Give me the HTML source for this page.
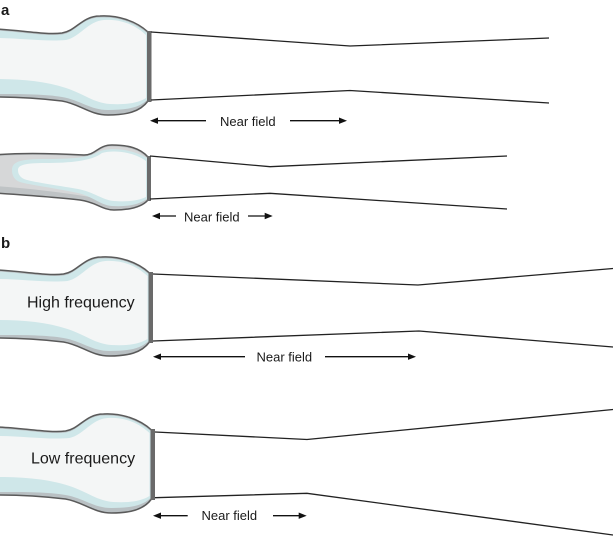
<!DOCTYPE html>
<html>
<head>
<meta charset="utf-8">
<style>
  html, body { margin: 0; padding: 0; background: #ffffff; }
  svg { display: block; }
  text { font-family: "Liberation Sans", sans-serif; fill: #1a1a1a; }
</style>
</head>
<body>
<svg width="613" height="537" viewBox="0 0 613 537" xmlns="http://www.w3.org/2000/svg">
  <defs>
    <g id="probe">
      <path d="M-5,29 C20,30 45,35 62,33 C76,31 82,16 100,16 C118,15 136,21 148,32 L148,101 C140,112 126,115 108,115 C90,115 80,104 62,101 C45,99 20,97 -5,97 Z" fill="#b9c0c3" stroke="#5a5a5a" stroke-width="1.5"/>
      <path d="M-5,30.5 C20,31.5 45,36.5 62,34.5 C76,32.5 82,17.5 100,17.5 C118,16.5 135,22.5 147,33 L147,100 C139,108 126,110 108,110 C90,110 80,100 62,97 C45,94 20,94 -5,94 Z" fill="#cfe7e9"/>
      <path d="M-5,38 C20,38 45,42 66,40 C80,37 88,21 104,20 C120,19 134,24 146,35 L146,98 C138,103 126,105 110,104 C94,103 84,94 66,88 C45,81 20,79 -5,79 Z" fill="#f4f6f6"/>
      <rect x="147" y="31" width="4.5" height="71" fill="#6a6a6a"/>
    </g>
    <polygon id="ahL" points="0,0 8,-3.2 8,3.2" fill="#111"/>
    <polygon id="ahR" points="0,0 -8,-3.2 -8,3.2" fill="#111"/>
  </defs>

  <!-- labels -->
  <text x="1" y="15" font-size="15" font-weight="bold">a</text>
  <text x="1" y="248" font-size="15" font-weight="bold">b</text>

  <!-- Probe 1 -->
  <use href="#probe"/>
  <polyline points="151,32 350,46 549,38" fill="none" stroke="#222" stroke-width="1.3"/>
  <polyline points="151,100 350,90.5 549,103" fill="none" stroke="#222" stroke-width="1.3"/>
  <line x1="153" y1="120.7" x2="206" y2="120.7" stroke="#111" stroke-width="1.3"/>
  <use href="#ahL" x="150" y="120.7"/>
  <text x="220" y="126" font-size="13">Near field</text>
  <line x1="290" y1="120.7" x2="342" y2="120.7" stroke="#111" stroke-width="1.3"/>
  <use href="#ahR" x="347" y="120.7"/>

  <!-- Probe 2 -->
  <path d="M-5,155 C25,152 65,154 84,155 C96,155 98,145 112,145 C128,145 140,148 148,157 L148,200 C141,208 128,210 114,210 C102,210 96,202 80,200 C55,197 25,195 -5,193 Z" fill="#bfc3c5" stroke="#5a5a5a" stroke-width="1.5"/>
  <path d="M-5,156.5 C25,153.5 65,155.5 84,156.5 C96,156.5 98,146.5 112,146.5 C128,146.5 139,149.5 147,158 L147,198 C135,200 110,200 90,197 C60,192 25,188 -5,186 Z" fill="#d6d7d8"/>
  <path d="M12,170 C12,161 22,159 45,159 C70,159 88,158 98,152 C108,147 130,148 147,158 L147,199 C138,205 126,207 112,206 C100,205 94,197 78,193 C55,188 30,185 20,182 C14,180 12,175 12,170 Z" fill="#cfe7e9"/>
  <path d="M18,170 C18,165 25,163 45,163 C70,163 92,161 102,153 C112,150 132,151 146,161 L146,197 C138,201 126,202 114,201 C102,200 94,192 78,189 C55,185 32,182 24,179 C20,177 18,174 18,170 Z" fill="#f4f6f6"/>
  <rect x="147" y="156" width="4" height="45" fill="#6a6a6a"/>
  <polyline points="150,156 270,166.7 507,156" fill="none" stroke="#222" stroke-width="1.3"/>
  <polyline points="150,199 270,193.3 507,209" fill="none" stroke="#222" stroke-width="1.3"/>
  <line x1="155" y1="216" x2="176" y2="216" stroke="#111" stroke-width="1.3"/>
  <use href="#ahL" x="152" y="216"/>
  <text x="184" y="221.5" font-size="13">Near field</text>
  <line x1="248" y1="216" x2="268" y2="216" stroke="#111" stroke-width="1.3"/>
  <use href="#ahR" x="272.7" y="216"/>

  <!-- Probe 3 (high frequency) -->
  <use href="#probe" transform="translate(1.5,241)"/>
  <text x="27" y="307.5" font-size="16">High frequency</text>
  <polyline points="153,274 418,285 613,268.5" fill="none" stroke="#222" stroke-width="1.3"/>
  <polyline points="153,341 419,331 613,347" fill="none" stroke="#222" stroke-width="1.3"/>
  <line x1="156" y1="356.7" x2="245" y2="356.7" stroke="#111" stroke-width="1.3"/>
  <use href="#ahL" x="153" y="356.7"/>
  <text x="256.5" y="361.5" font-size="13">Near field</text>
  <line x1="325" y1="356.7" x2="411" y2="356.7" stroke="#111" stroke-width="1.3"/>
  <use href="#ahR" x="416" y="356.7"/>

  <!-- Probe 4 (low frequency) -->
  <use href="#probe" transform="translate(3.5,398)"/>
  <text x="31" y="463.5" font-size="16">Low frequency</text>
  <polyline points="155,432 307,439.5 613,409.5" fill="none" stroke="#222" stroke-width="1.3"/>
  <polyline points="155,497.7 307,493.3 613,535" fill="none" stroke="#222" stroke-width="1.3"/>
  <line x1="156" y1="515.7" x2="187.7" y2="515.7" stroke="#111" stroke-width="1.3"/>
  <use href="#ahL" x="153" y="515.7"/>
  <text x="201.5" y="520" font-size="13">Near field</text>
  <line x1="273" y1="515.7" x2="302" y2="515.7" stroke="#111" stroke-width="1.3"/>
  <use href="#ahR" x="306.7" y="515.7"/>
</svg>
</body>
</html>
